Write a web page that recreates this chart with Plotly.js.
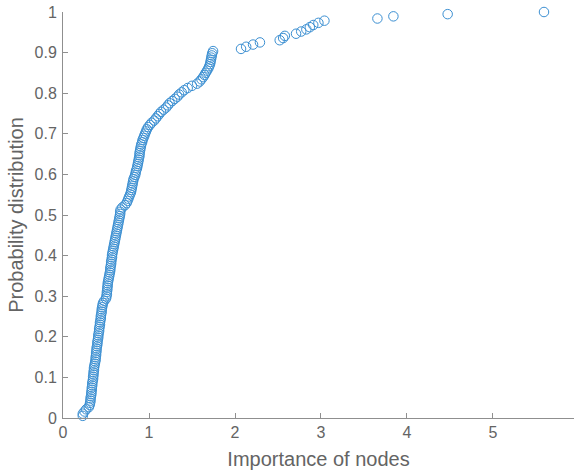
<!DOCTYPE html>
<html>
<head>
<meta charset="utf-8">
<script src="https://cdn.plot.ly/plotly-3.0.1.min.js"></script>
<style>html,body{margin:0;padding:0;background:#fff;}#chart{width:574px;height:473px;}</style>
</head>
<body>
<div id="chart"></div>
<script>
// Importance of each node (sorted)
const importance = [
0.23,0.23,0.25,0.27,0.30,0.31,0.315,0.32,0.32,0.325,
0.33,0.33,0.335,0.335,0.34,0.34,0.345,0.35,0.35,0.355,
0.355,0.36,0.36,0.365,0.37,0.375,0.38,0.38,0.385,0.385,
0.39,0.39,0.395,0.40,0.40,0.405,0.41,0.41,0.415,0.42,
0.42,0.425,0.43,0.43,0.435,0.44,0.44,0.445,0.45,0.45,
0.455,0.46,0.465,0.48,0.50,0.505,0.51,0.51,0.515,0.515,
0.52,0.52,0.525,0.53,0.535,0.54,0.545,0.55,0.55,0.555,
0.56,0.56,0.565,0.57,0.57,0.575,0.58,0.585,0.59,0.595,
0.60,0.605,0.61,0.615,0.62,0.625,0.63,0.635,0.64,0.645,
0.65,0.655,0.66,0.665,0.665,0.67,0.69,0.72,0.74,0.75,
0.76,0.77,0.78,0.79,0.795,0.80,0.805,0.81,0.815,0.82,
0.83,0.84,0.845,0.85,0.86,0.865,0.87,0.875,0.88,0.885,
0.89,0.89,0.895,0.90,0.905,0.91,0.92,0.925,0.935,0.945,
0.955,0.965,0.975,0.99,1.01,1.03,1.06,1.08,1.10,1.12,
1.14,1.17,1.20,1.22,1.24,1.27,1.30,1.33,1.35,1.38,
1.41,1.45,1.50,1.56,1.59,1.61,1.63,1.645,1.66,1.675,
1.69,1.70,1.71,1.715,1.72,1.725,1.73,1.735,1.745,
2.07,2.13,2.21,2.29,2.52,2.56,2.58,2.71,2.77,2.83,
2.87,2.91,2.97,3.04,3.656,3.842,4.473,5.593
];
// Cumulative probability at each node
const probability = [
0.0053,0.0107,0.0160,0.0214,0.0267,0.0321,0.0374,0.0428,0.0481,0.0535,
0.0588,0.0642,0.0695,0.0749,0.0802,0.0856,0.0909,0.0963,0.1016,0.1070,
0.1123,0.1176,0.1230,0.1283,0.1337,0.1390,0.1444,0.1497,0.1551,0.1604,
0.1658,0.1711,0.1765,0.1818,0.1872,0.1925,0.1979,0.2032,0.2086,0.2139,
0.2193,0.2246,0.2299,0.2353,0.2406,0.2460,0.2513,0.2567,0.2620,0.2674,
0.2727,0.2781,0.2834,0.2888,0.2941,0.2995,0.3048,0.3102,0.3155,0.3209,
0.3262,0.3316,0.3369,0.3422,0.3476,0.3529,0.3583,0.3636,0.3690,0.3743,
0.3797,0.3850,0.3904,0.3957,0.4011,0.4064,0.4118,0.4171,0.4225,0.4278,
0.4332,0.4385,0.4439,0.4492,0.4545,0.4599,0.4652,0.4706,0.4759,0.4813,
0.4866,0.4920,0.4973,0.5027,0.5080,0.5134,0.5187,0.5241,0.5294,0.5348,
0.5401,0.5455,0.5508,0.5561,0.5615,0.5668,0.5722,0.5775,0.5829,0.5882,
0.5936,0.5989,0.6043,0.6096,0.6150,0.6203,0.6257,0.6310,0.6364,0.6417,
0.6471,0.6524,0.6578,0.6631,0.6684,0.6738,0.6791,0.6845,0.6898,0.6952,
0.7005,0.7059,0.7112,0.7166,0.7219,0.7273,0.7326,0.7380,0.7433,0.7487,
0.7540,0.7594,0.7647,0.7701,0.7754,0.7807,0.7861,0.7914,0.7968,0.8021,
0.8075,0.8128,0.8182,0.8235,0.8289,0.8342,0.8396,0.8449,0.8503,0.8556,
0.8610,0.8663,0.8717,0.8770,0.8824,0.8877,0.8930,0.8984,0.9037,
0.9091,0.9144,0.9198,0.9251,0.9305,0.9358,0.9412,0.9465,0.9519,0.9572,
0.9626,0.9679,0.9733,0.9786,0.9840,0.9893,0.9947,1.0
];
const xTicks = [0,1,2,3,4,5];
const yTicks = [0,0.1,0.2,0.3,0.4,0.5,0.6,0.7,0.8,0.9,1];
const yTickText = ['0','0.1','0.2','0.3','0.4','0.5','0.6','0.7','0.8','0.9','1'];
const xTitle = 'Importance of nodes';
const yTitle = 'Probability distribution';

const trace = {
  x: importance, y: probability, type: 'scatter', mode: 'markers',
  marker: {symbol: 'circle-open', size: 9.5, color: '#3b8fd2', line: {width: 1}},
  cliponaxis: false, hoverinfo: 'skip'
};
const axisCommon = {
  showgrid: false, zeroline: false, showline: true, linecolor: '#8f8f8f', linewidth: 1,
  ticks: 'inside', ticklen: 5, tickcolor: '#8f8f8f', tickwidth: 1,
  tickfont: {family: 'Liberation Sans, Arial, sans-serif', size: 16, color: '#646464'},
  automargin: false, fixedrange: true
};
const layout = {
  width: 574, height: 473,
  margin: {l: 63, r: 0, t: 12, b: 55},
  paper_bgcolor: '#ffffff', plot_bgcolor: '#ffffff',
  showlegend: false,
  xaxis: Object.assign({}, axisCommon, {
    range: [0, 5.942], tickvals: xTicks, ticktext: xTicks.map(String),
    title: {text: xTitle, standoff: 11, font: {family: 'Liberation Sans, Arial, sans-serif', size: 20, color: '#646464'}}
  }),
  yaxis: Object.assign({}, axisCommon, {
    range: [0, 1], tickvals: yTicks, ticktext: yTickText, ticklabelstandoff: 2,
    title: {text: yTitle, standoff: 5, font: {family: 'Liberation Sans, Arial, sans-serif', size: 20, color: '#646464'}}
  })
};
Plotly.newPlot('chart', [trace], layout, {staticPlot: true, displayModeBar: false});
</script>
</body>
</html>
